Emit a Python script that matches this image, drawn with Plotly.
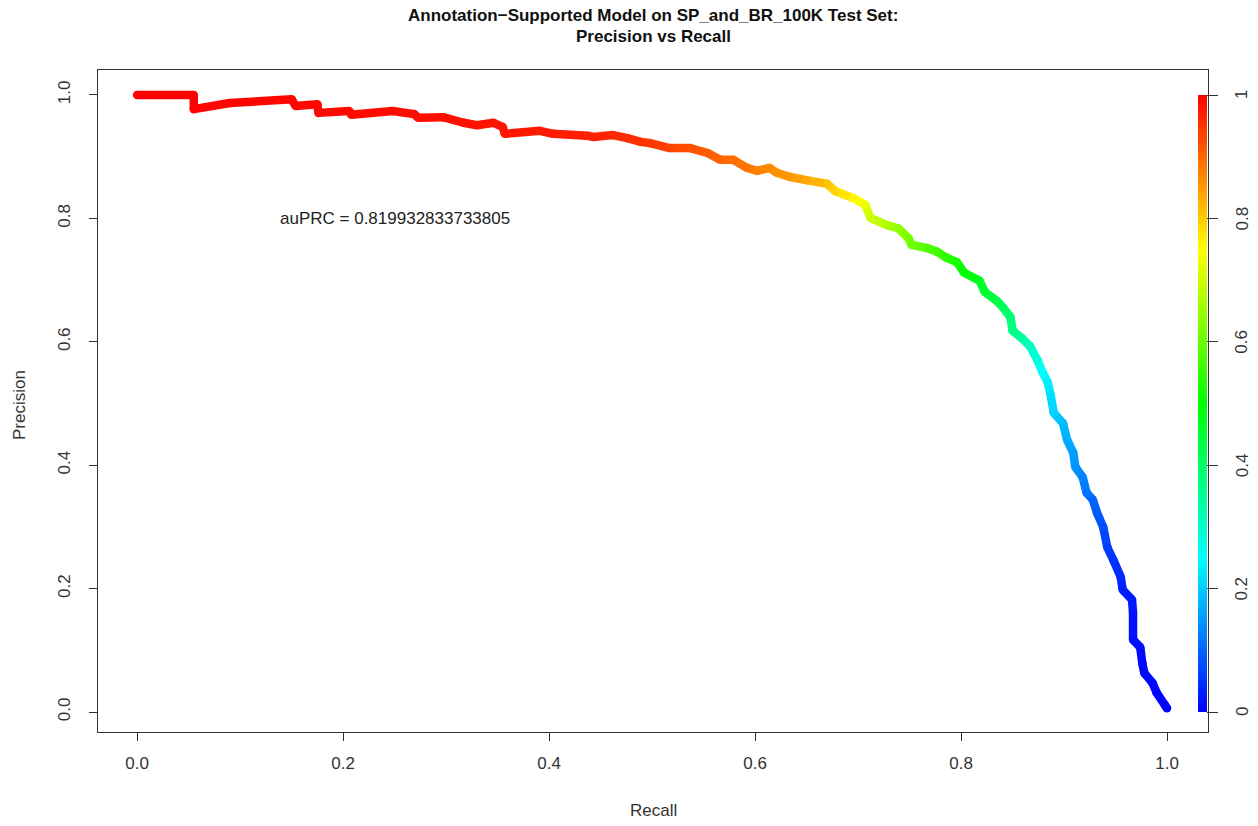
import plotly.graph_objects as go
from plotly.colors import sample_colorscale

# ---- data ----
recall = [0.000, 0.055, 0.055, 0.090, 0.150, 0.154, 0.175, 0.176, 0.206, 0.208,
          0.248, 0.269, 0.273, 0.297, 0.317, 0.330, 0.346, 0.355, 0.357, 0.391,
          0.404, 0.437, 0.443, 0.462, 0.476, 0.489, 0.498, 0.517, 0.537, 0.554,
          0.566, 0.579, 0.592, 0.602, 0.614, 0.621, 0.634, 0.650, 0.670, 0.678,
          0.695, 0.707, 0.712, 0.728, 0.739, 0.749, 0.752, 0.767, 0.777, 0.785,
          0.796, 0.803, 0.818, 0.823, 0.835, 0.841, 0.848, 0.850, 0.859, 0.867,
          0.874, 0.879, 0.884, 0.887, 0.890, 0.899, 0.903, 0.909, 0.911, 0.918,
          0.922, 0.928, 0.932, 0.938, 0.942, 0.948, 0.955, 0.957, 0.966, 0.967,
          0.967, 0.974, 0.976, 0.978, 0.986, 0.990, 0.998, 1.000]
precision = [1.000, 1.000, 0.977, 0.987, 0.993, 0.982, 0.985, 0.971, 0.974, 0.968,
             0.974, 0.969, 0.963, 0.964, 0.955, 0.951, 0.955, 0.948, 0.937, 0.942,
             0.937, 0.934, 0.932, 0.935, 0.930, 0.924, 0.922, 0.914, 0.914, 0.906,
             0.895, 0.895, 0.882, 0.877, 0.882, 0.874, 0.867, 0.862, 0.856, 0.844,
             0.833, 0.822, 0.801, 0.789, 0.784, 0.768, 0.757, 0.752, 0.746, 0.737,
             0.729, 0.712, 0.699, 0.681, 0.666, 0.655, 0.640, 0.618, 0.606, 0.593,
             0.571, 0.551, 0.535, 0.514, 0.485, 0.468, 0.441, 0.420, 0.397, 0.381,
             0.355, 0.344, 0.323, 0.300, 0.267, 0.246, 0.219, 0.198, 0.182, 0.161,
             0.117, 0.105, 0.079, 0.063, 0.047, 0.031, 0.011, 0.006]
threshold = [1.000, 0.998, 0.997, 0.996, 0.995, 0.994, 0.993, 0.992, 0.991, 0.990,
             0.988, 0.987, 0.986, 0.985, 0.983, 0.982, 0.980, 0.979, 0.978, 0.975,
             0.973, 0.968, 0.967, 0.960, 0.955, 0.950, 0.945, 0.935, 0.920, 0.910,
             0.900, 0.893, 0.885, 0.875, 0.865, 0.858, 0.850, 0.835, 0.810, 0.790,
             0.760, 0.730, 0.700, 0.670, 0.645, 0.620, 0.610, 0.580, 0.560, 0.545,
             0.520, 0.500, 0.470, 0.455, 0.430, 0.410, 0.390, 0.370, 0.340, 0.310,
             0.280, 0.255, 0.235, 0.220, 0.205, 0.185, 0.170, 0.155, 0.145, 0.130,
             0.115, 0.100, 0.090, 0.075, 0.060, 0.050, 0.040, 0.030, 0.025, 0.020,
             0.015, 0.012, 0.010, 0.008, 0.006, 0.004, 0.002, 0.000]

axis_ticks = [0.0, 0.2, 0.4, 0.6, 0.8, 1.0]
axis_ticktext = ["0.0", "0.2", "0.4", "0.6", "0.8", "1.0"]
cbar_ticks = [0.0, 0.2, 0.4, 0.6, 0.8, 1.0]
cbar_ticktext = ["0", "0.2", "0.4", "0.6", "0.8", "1"]

title_line1 = "Annotation\u2212Supported Model on SP_and_BR_100K Test Set:"
title_line2 = "Precision vs Recall"
x_title = "Recall"
y_title = "Precision"
auprc_text = "auPRC = 0.819932833733805"
auprc_pos = (0.25, 0.80)

RAINBOW = [[0.0, "#0000FF"], [0.25, "#00FFFF"], [0.5, "#00FF00"],
           [0.75, "#FFFF00"], [1.0, "#FF0000"]]

FONT = "Liberation Sans, Arial, Helvetica, sans-serif"
INK = "#333333"

# plot-box geometry (pixels)
BOX_L, BOX_R, BOX_T, BOX_B = 98, 1208, 70, 732
BOX_W, BOX_H = BOX_R - BOX_L, BOX_B - BOX_T
Y_RANGE = [-0.0324, 1.0405]

fig = go.Figure()

# coloured curve: one short line segment per pair of consecutive points
for i in range(len(recall) - 1):
    c = sample_colorscale(RAINBOW, [(threshold[i] + threshold[i + 1]) / 2])[0]
    fig.add_trace(go.Scatter(
        x=recall[i:i + 2], y=precision[i:i + 2], mode="lines",
        line=dict(color=c, width=8.5), hoverinfo="skip", showlegend=False))

# markers (round joins) + colour bar
fig.add_trace(go.Scatter(
    x=recall, y=precision, mode="markers", showlegend=False,
    marker=dict(size=8.5, color=threshold, colorscale=RAINBOW, cmin=0, cmax=1,
                line=dict(width=0),
                colorbar=dict(
                    x=(1198 - BOX_L) / BOX_W, xanchor="left", xpad=0, ypad=0,
                    y=(BOX_B - 403.5) / BOX_H, yanchor="middle",
                    thickness=9, lenmode="pixels", len=617,
                    outlinewidth=0,
                    tickmode="array", tickvals=cbar_ticks, ticktext=cbar_ticktext,
                    ticks="outside", ticklen=11, tickcolor=INK,
                    showticklabels=False))))

# colour-bar tick labels (rotated, as in the reference)
for v, t in zip(cbar_ticks, cbar_ticktext):
    frac = (v - Y_RANGE[0]) / (Y_RANGE[1] - Y_RANGE[0])
    fig.add_annotation(x=(1242 - BOX_L) / BOX_W, y=frac, xref="paper", yref="paper",
                       text=t, showarrow=False, textangle=-90,
                       xanchor="center", yanchor="middle",
                       font=dict(family=FONT, size=17, color=INK))

fig.add_annotation(x=auprc_pos[0], y=auprc_pos[1], xref="x", yref="y",
                   text=auprc_text, showarrow=False,
                   font=dict(family=FONT, size=17, color="#222222"))

fig.add_annotation(x=0.5, y=(BOX_B - 16) / BOX_H, xref="paper", yref="paper",
                   text="<b>" + title_line1 + "</b>", showarrow=False,
                   yanchor="middle", font=dict(family=FONT, size=17, color="#111111"))
fig.add_annotation(x=0.5, y=(BOX_B - 37) / BOX_H, xref="paper", yref="paper",
                   text="<b>" + title_line2 + "</b>", showarrow=False,
                   yanchor="middle", font=dict(family=FONT, size=17, color="#111111"))
fig.add_annotation(x=(653 - BOX_L) / BOX_W, y=(BOX_B - 810) / BOX_H, xref="paper", yref="paper",
                   text=x_title, showarrow=False, yanchor="middle",
                   font=dict(family=FONT, size=17, color=INK))
fig.add_annotation(x=(20 - BOX_L) / BOX_W, y=(BOX_B - 405) / BOX_H, xref="paper", yref="paper",
                   text=y_title, showarrow=False, textangle=-90, xanchor="center",
                   yanchor="middle", font=dict(family=FONT, size=17, color=INK))

axis_common = dict(showline=True, mirror=True, linecolor=INK, linewidth=1,
                   ticks="outside", ticklen=8, tickcolor=INK, tickwidth=1,
                   showgrid=False, zeroline=False, tickmode="array",
                   tickvals=axis_ticks, ticktext=axis_ticktext,
                   tickfont=dict(family=FONT, size=17, color=INK))

fig.update_xaxes(range=[-0.038, 1.0398], ticklabelstandoff=8, **axis_common)
fig.update_yaxes(range=Y_RANGE, tickangle=-90, ticklabelstandoff=12, **axis_common)

fig.update_layout(
    width=1258, height=826,
    margin=dict(l=BOX_L, r=1258 - BOX_R, t=BOX_T, b=826 - BOX_B),
    paper_bgcolor="white", plot_bgcolor="white",
    font=dict(family=FONT, size=17, color=INK),
    showlegend=False,
)

fig.write_html("out.html")
